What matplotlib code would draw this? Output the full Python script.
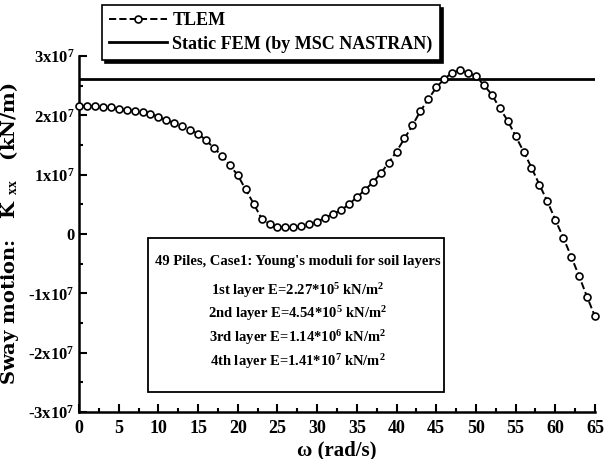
import matplotlib
matplotlib.use("Agg")
import matplotlib.pyplot as plt
from matplotlib.patches import Rectangle
from matplotlib.ticker import MultipleLocator
import numpy as np

plt.rcParams['font.family'] = 'Liberation Serif'
plt.rcParams['font.weight'] = 'bold'
plt.rcParams['mathtext.fontset'] = 'custom'
plt.rcParams['mathtext.rm'] = 'Liberation Serif:bold'
plt.rcParams['mathtext.it'] = 'Liberation Serif:bold'
plt.rcParams['mathtext.bf'] = 'Liberation Serif:bold'

# frequency (rad/s) and TLEM sway stiffness (x1e7 kN/m)
omega = np.arange(0, 66, 1)
k_tlem = [2.16, 2.16, 2.15, 2.14, 2.14, 2.11, 2.09, 2.08, 2.06, 2.03,
          1.97, 1.92, 1.87, 1.82, 1.76, 1.69, 1.58, 1.45, 1.32, 1.16,
          0.99, 0.75, 0.51, 0.26, 0.17, 0.12, 0.11, 0.11, 0.13, 0.17,
          0.21, 0.27, 0.34, 0.40, 0.50, 0.62, 0.74, 0.87, 1.02, 1.20,
          1.39, 1.61, 1.83, 2.07, 2.27, 2.47, 2.61, 2.72, 2.76, 2.72,
          2.66, 2.51, 2.35, 2.12, 1.91, 1.65, 1.39, 1.12, 0.83, 0.55,
          0.24, -0.06, -0.38, -0.71, -1.06, -1.39]
k_static = 2.62  # x1e7

yticks = [-3, -2, -1, 0, 1, 2, 3]
ytick_labels = ['-3x10$^7$', '-2x10$^7$', '-1x10$^7$', '0',
                '1x10$^7$', '2x10$^7$', '3x10$^7$']

info_lines = ["49 Piles, Case1: Young's moduli for soil layers",
              "1st layer E=2.27*10$^5$ kN/m$^2$",
              "2nd layer E=4.54*10$^5$ kN/m$^2$",
              "3rd layer E=1.14*10$^6$ kN/m$^2$",
              "4th layer E=1.41*10$^7$ kN/m$^2$"]

fig = plt.figure(figsize=(6.04, 4.59), dpi=100)
ax = fig.add_axes([79/604, 1-412/459, (595-79)/604, (412-56)/459])

ax.plot(omega, np.array(k_tlem), 'k--', marker='o', mfc='white', mec='black',
        ms=5, mew=1.2, lw=1.4, label='TLEM', clip_on=False, zorder=3)
ax.axhline(k_static, color='black', lw=2, label='Static FEM (by MSC NASTRAN)')

ax.set_xlim(0, 65)
ax.set_ylim(-3, 3)
ax.xaxis.set_major_locator(MultipleLocator(5))
ax.xaxis.set_minor_locator(MultipleLocator(2.5))
ax.set_yticks(yticks)
ax.set_yticklabels(ytick_labels)
ax.yaxis.set_minor_locator(MultipleLocator(0.5))
ax.tick_params(which='both', direction='in', width=1.5)
ax.tick_params(axis='x', labelsize=13, pad=6)
ax.tick_params(axis='y', labelsize=12, pad=3)
ax.tick_params(which='major', length=6)
ax.tick_params(which='minor', length=3)
for s in ['top', 'right']:
    ax.spines[s].set_visible(False)
for s in ['left', 'bottom']:
    ax.spines[s].set_linewidth(1.8)

ax.set_xlabel('ω (rad/s)', fontsize=15, fontweight='bold', labelpad=2)
ax.set_ylabel('Sway motion:   K $_{xx}$   (kN/m)', fontsize=14, fontweight='bold',
              family='DejaVu Serif', labelpad=5)

leg = ax.legend(loc='upper left', bbox_to_anchor=(102/604, 1-5/459),
                bbox_transform=fig.transFigure, frameon=True, fancybox=False,
                shadow={'color': 'black', 'alpha': 1}, borderaxespad=0, fontsize=13,
                handlelength=3.2, handletextpad=0.3, borderpad=0.4, labelspacing=0.35)
leg.get_frame().set_edgecolor('black')
leg.get_frame().set_linewidth(1.2)

box = Rectangle((148/604, 1-392/459), (444-148)/604, (392-238)/459,
                transform=fig.transFigure, fill=True, facecolor='white',
                edgecolor='black', lw=1.3, zorder=2)
fig.patches.append(box)
ys = [262, 291, 314, 338, 362]
for txt, yy in zip(info_lines, ys):
    fig.text(298/604, 1-yy/459, txt, ha='center', va='center', fontsize=10.5,
             fontweight='bold')

fig.savefig('out.png', dpi=100)
